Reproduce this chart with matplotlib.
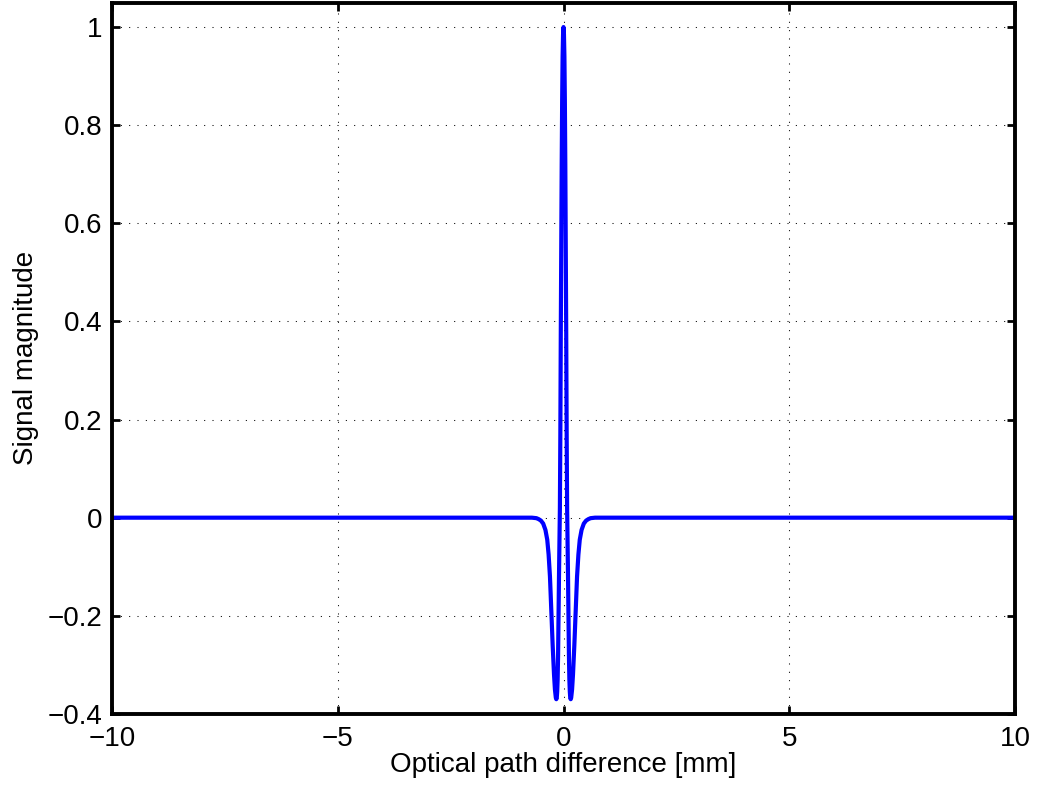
import numpy as np
import matplotlib
matplotlib.use('Agg')
import matplotlib.pyplot as plt

# interferogram (mm, normalised magnitude)
opd_mm = [-10.0, -5.0, -2.0, -1.0, -0.7, -0.6, -0.55, -0.5, -0.45, -0.4,
          -0.36, -0.33, -0.3, -0.27, -0.24, -0.21, -0.19, -0.17, -0.16,
          -0.15, -0.14, -0.13, -0.12, -0.11, -0.1, -0.09, -0.08, -0.07,
          -0.06, -0.05, -0.04, -0.03, -0.02, -0.01, 0.0,
          0.01, 0.02, 0.03, 0.04, 0.05, 0.06, 0.07, 0.08, 0.09, 0.1,
          0.11, 0.12, 0.13, 0.14, 0.15, 0.16, 0.17, 0.19, 0.21, 0.24,
          0.27, 0.3, 0.33, 0.36, 0.4, 0.45, 0.5, 0.55, 0.6, 0.7,
          1.0, 2.0, 5.0, 10.0]
signal = [0.0, 0.0, 0.0, 0.0, 0.0, -0.001, -0.003, -0.006, -0.012, -0.025,
          -0.045, -0.075, -0.12, -0.19, -0.26, -0.32, -0.35, -0.367, -0.37,
          -0.368, -0.355, -0.33, -0.28, -0.2, -0.12, -0.05, 0.02, 0.17,
          0.38, 0.55, 0.72, 0.85, 0.94, 0.985, 1.0,
          0.985, 0.94, 0.85, 0.72, 0.55, 0.38, 0.17, 0.02, -0.05, -0.12,
          -0.2, -0.28, -0.33, -0.355, -0.368, -0.37, -0.367, -0.35, -0.32, -0.26,
          -0.19, -0.12, -0.075, -0.045, -0.025, -0.012, -0.006, -0.003, -0.001, 0.0,
          0.0, 0.0, 0.0, 0.0]

xticks = [-10, -5, 0, 5, 10]
xticklabels = ['\u221210', '\u22125', '0', '5', '10']
yticks = [-0.4, -0.2, 0, 0.2, 0.4, 0.6, 0.8, 1]
yticklabels = ['\u22120.4', '\u22120.2', '0', '0.2', '0.4', '0.6', '0.8', '1']

plt.rcParams['font.family'] = ['Liberation Sans', 'DejaVu Sans']
plt.rcParams['font.size'] = 20

fig = plt.figure(figsize=(10.37, 7.88), dpi=100)
ax = fig.add_axes([0.108, 0.094, 0.8708, 0.9028])

ax.plot(opd_mm, signal, color='#0000ff', lw=3.0, solid_capstyle='round')

ax.set_xlim(-10, 10)
ax.set_ylim(-0.4, 1.05)
ax.set_xticks(xticks)
ax.set_xticklabels(xticklabels)
ax.set_yticks(yticks)
ax.set_yticklabels(yticklabels)

ax.grid(True, color='black', linestyle=(0, (1, 7)), linewidth=0.75)
ax.tick_params(direction='in', length=6, width=2, top=True, right=True,
               labelsize=20, pad=7)
ax.tick_params(axis='x', pad=9)
for s in ax.spines.values():
    s.set_linewidth(2.8)

ax.set_xlabel('Optical path difference [mm]', fontsize=20, labelpad=0)
ax.set_ylabel('Signal magnitude', fontsize=20, labelpad=6)

fig.savefig('out.png', dpi=100)
